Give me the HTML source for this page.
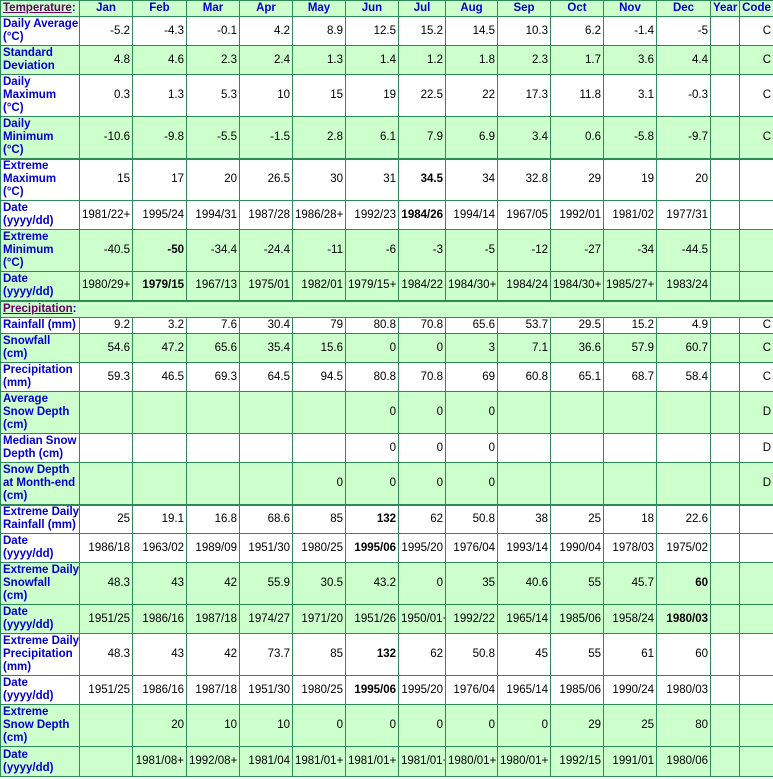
<!DOCTYPE html>
<html><head><meta charset="utf-8"><style>
body{margin:0;background:#fff;}
table{border-collapse:collapse;table-layout:fixed;width:773px;font-family:"Liberation Sans",sans-serif;font-size:11.5px;color:#000;}
td{border:1px solid #2e8b57;padding:0 2px;text-align:right;vertical-align:middle;line-height:13px;overflow:hidden;white-space:nowrap;}
td.l{text-align:left;font-weight:bold;color:#0000cc;font-size:11.5px;padding:0 2px;}
tr.g td{background:#ccffcc;}
tr.h td{background:#ccffcc;text-align:center;font-weight:bold;color:#0000cc;}
a{color:#660066;text-decoration:underline;font-weight:bold;}
tr.sep td{border-top:2px solid #2e8b57;}
</style></head><body>
<table>
<colgroup><col style="width:79px"><col style="width:53px"><col style="width:54px"><col style="width:53px"><col style="width:53px"><col style="width:53px"><col style="width:53px"><col style="width:47px"><col style="width:52px"><col style="width:53px"><col style="width:53px"><col style="width:53px"><col style="width:54px"><col style="width:29px"><col style="width:34px"></colgroup>
<tr class="h" style="height:16px"><td class="l" style="text-align:left"><a>Temperature</a>:</td><td>Jan</td><td>Feb</td><td>Mar</td><td>Apr</td><td>May</td><td>Jun</td><td>Jul</td><td>Aug</td><td>Sep</td><td>Oct</td><td>Nov</td><td>Dec</td><td>Year</td><td>Code</td></tr>
<tr style="height:29px"><td class="l">Daily Average<br>(°C)</td><td>-5.2</td><td>-4.3</td><td>-0.1</td><td>4.2</td><td>8.9</td><td>12.5</td><td>15.2</td><td>14.5</td><td>10.3</td><td>6.2</td><td>-1.4</td><td>-5</td><td></td><td>C</td></tr>
<tr class="g" style="height:29px"><td class="l">Standard<br>Deviation</td><td>4.8</td><td>4.6</td><td>2.3</td><td>2.4</td><td>1.3</td><td>1.4</td><td>1.2</td><td>1.8</td><td>2.3</td><td>1.7</td><td>3.6</td><td>4.4</td><td></td><td>C</td></tr>
<tr style="height:42px"><td class="l">Daily<br>Maximum<br>(°C)</td><td>0.3</td><td>1.3</td><td>5.3</td><td>10</td><td>15</td><td>19</td><td>22.5</td><td>22</td><td>17.3</td><td>11.8</td><td>3.1</td><td>-0.3</td><td></td><td>C</td></tr>
<tr class="g" style="height:42px"><td class="l">Daily<br>Minimum<br>(°C)</td><td>-10.6</td><td>-9.8</td><td>-5.5</td><td>-1.5</td><td>2.8</td><td>6.1</td><td>7.9</td><td>6.9</td><td>3.4</td><td>0.6</td><td>-5.8</td><td>-9.7</td><td></td><td>C</td></tr>
<tr class="sep" style="height:42px"><td class="l">Extreme<br>Maximum<br>(°C)</td><td>15</td><td>17</td><td>20</td><td>26.5</td><td>30</td><td>31</td><td><b>34.5</b></td><td>34</td><td>32.8</td><td>29</td><td>19</td><td>20</td><td></td><td></td></tr>
<tr style="height:29px"><td class="l">Date<br>(yyyy/dd)</td><td>1981/22+</td><td>1995/24</td><td>1994/31</td><td>1987/28</td><td>1986/28+</td><td>1992/23</td><td><b>1984/26</b></td><td>1994/14</td><td>1967/05</td><td>1992/01</td><td>1981/02</td><td>1977/31</td><td></td><td></td></tr>
<tr class="g" style="height:42px"><td class="l">Extreme<br>Minimum<br>(°C)</td><td>-40.5</td><td><b>-50</b></td><td>-34.4</td><td>-24.4</td><td>-11</td><td>-6</td><td>-3</td><td>-5</td><td>-12</td><td>-27</td><td>-34</td><td>-44.5</td><td></td><td></td></tr>
<tr class="g" style="height:29px"><td class="l">Date<br>(yyyy/dd)</td><td>1980/29+</td><td><b>1979/15</b></td><td>1967/13</td><td>1975/01</td><td>1982/01</td><td>1979/15+</td><td>1984/22</td><td>1984/30+</td><td>1984/24</td><td>1984/30+</td><td>1985/27+</td><td>1983/24</td><td></td><td></td></tr>
<tr class="g sep" style="height:17px"><td class="l" colspan="15"><a>Precipitation</a>:</td></tr>
<tr style="height:16px"><td class="l">Rainfall (mm)</td><td>9.2</td><td>3.2</td><td>7.6</td><td>30.4</td><td>79</td><td>80.8</td><td>70.8</td><td>65.6</td><td>53.7</td><td>29.5</td><td>15.2</td><td>4.9</td><td></td><td>C</td></tr>
<tr class="g" style="height:29px"><td class="l">Snowfall<br>(cm)</td><td>54.6</td><td>47.2</td><td>65.6</td><td>35.4</td><td>15.6</td><td>0</td><td>0</td><td>3</td><td>7.1</td><td>36.6</td><td>57.9</td><td>60.7</td><td></td><td>C</td></tr>
<tr style="height:29px"><td class="l">Precipitation<br>(mm)</td><td>59.3</td><td>46.5</td><td>69.3</td><td>64.5</td><td>94.5</td><td>80.8</td><td>70.8</td><td>69</td><td>60.8</td><td>65.1</td><td>68.7</td><td>58.4</td><td></td><td>C</td></tr>
<tr class="g" style="height:42px"><td class="l">Average<br>Snow Depth<br>(cm)</td><td></td><td></td><td></td><td></td><td></td><td>0</td><td>0</td><td>0</td><td></td><td></td><td></td><td></td><td></td><td>D</td></tr>
<tr style="height:29px"><td class="l">Median Snow<br>Depth (cm)</td><td></td><td></td><td></td><td></td><td></td><td>0</td><td>0</td><td>0</td><td></td><td></td><td></td><td></td><td></td><td>D</td></tr>
<tr class="g" style="height:42px"><td class="l">Snow Depth<br>at Month-end<br>(cm)</td><td></td><td></td><td></td><td></td><td>0</td><td>0</td><td>0</td><td>0</td><td></td><td></td><td></td><td></td><td></td><td>D</td></tr>
<tr class="sep" style="height:29px"><td class="l">Extreme Daily<br>Rainfall (mm)</td><td>25</td><td>19.1</td><td>16.8</td><td>68.6</td><td>85</td><td><b>132</b></td><td>62</td><td>50.8</td><td>38</td><td>25</td><td>18</td><td>22.6</td><td></td><td></td></tr>
<tr style="height:29px"><td class="l">Date<br>(yyyy/dd)</td><td>1986/18</td><td>1963/02</td><td>1989/09</td><td>1951/30</td><td>1980/25</td><td><b>1995/06</b></td><td>1995/20</td><td>1976/04</td><td>1993/14</td><td>1990/04</td><td>1978/03</td><td>1975/02</td><td></td><td></td></tr>
<tr class="g" style="height:42px"><td class="l">Extreme Daily<br>Snowfall<br>(cm)</td><td>48.3</td><td>43</td><td>42</td><td>55.9</td><td>30.5</td><td>43.2</td><td>0</td><td>35</td><td>40.6</td><td>55</td><td>45.7</td><td><b>60</b></td><td></td><td></td></tr>
<tr class="g" style="height:29px"><td class="l">Date<br>(yyyy/dd)</td><td>1951/25</td><td>1986/16</td><td>1987/18</td><td>1974/27</td><td>1971/20</td><td>1951/26</td><td>1950/01+</td><td>1992/22</td><td>1965/14</td><td>1985/06</td><td>1958/24</td><td><b>1980/03</b></td><td></td><td></td></tr>
<tr style="height:42px"><td class="l">Extreme Daily<br>Precipitation<br>(mm)</td><td>48.3</td><td>43</td><td>42</td><td>73.7</td><td>85</td><td><b>132</b></td><td>62</td><td>50.8</td><td>45</td><td>55</td><td>61</td><td>60</td><td></td><td></td></tr>
<tr style="height:29px"><td class="l">Date<br>(yyyy/dd)</td><td>1951/25</td><td>1986/16</td><td>1987/18</td><td>1951/30</td><td>1980/25</td><td><b>1995/06</b></td><td>1995/20</td><td>1976/04</td><td>1965/14</td><td>1985/06</td><td>1990/24</td><td>1980/03</td><td></td><td></td></tr>
<tr class="g" style="height:42px"><td class="l">Extreme<br>Snow Depth<br>(cm)</td><td></td><td>20</td><td>10</td><td>10</td><td>0</td><td>0</td><td>0</td><td>0</td><td>0</td><td>29</td><td>25</td><td>80</td><td></td><td></td></tr>
<tr class="g" style="height:30px"><td class="l">Date<br>(yyyy/dd)</td><td></td><td>1981/08+</td><td>1992/08+</td><td>1981/04</td><td>1981/01+</td><td>1981/01+</td><td>1981/01+</td><td>1980/01+</td><td>1980/01+</td><td>1992/15</td><td>1991/01</td><td>1980/06</td><td></td><td></td></tr>
</table>
</body></html>
